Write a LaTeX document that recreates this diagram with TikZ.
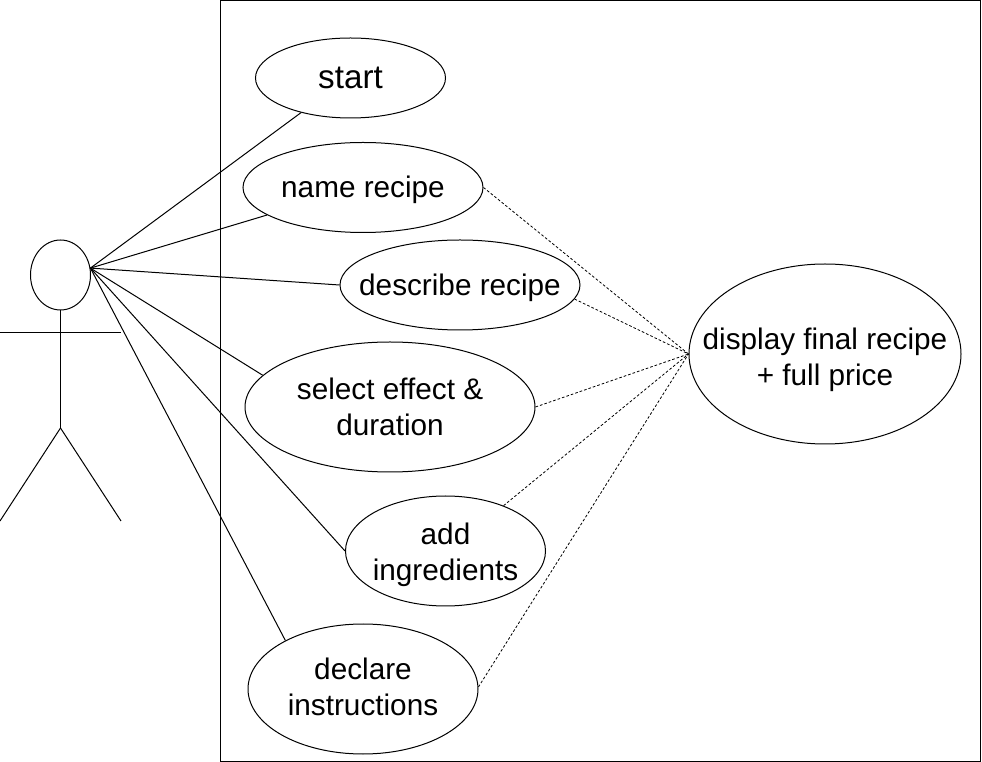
\documentclass[tikz,border=0pt]{standalone}
\usepackage{fontspec}
\usetikzlibrary{shapes.geometric}
\setmainfont{Liberation Sans}
\tikzset{
 px/.style={x=0.75pt,y=-0.75pt},
 usecase/.style={draw=black,ellipse,inner sep=0pt,line width=0.75pt},
 uctext/.style={inner sep=0pt,align=center,font=\fontsize{22.3}{27}\selectfont},
 link/.style={draw=black,line width=0.75pt},
 dep/.style={draw=black,line width=0.6pt,dash pattern=on 2pt off 1.5pt},
 limb/.style={draw=black,line width=0.75pt}
}
\begin{document}
\begin{tikzpicture}[px]
\useasboundingbox (0,0) rectangle (982,762);
\node[draw=black,line width=0.75pt,minimum width=760.5*0.75pt,minimum height=760*0.75pt,inner sep=0pt] (sys) at (600.5,381) {};
\node[usecase,minimum width=142.5pt,minimum height=60pt,label={[uctext,font=\fontsize{24.9}{28}\selectfont]center:start}] (start) at (350.5,78) {};
\node[usecase,minimum width=180pt,minimum height=67.5pt,label={[uctext,yshift=-1.9pt]center:name recipe}] (name) at (363,187.5) {};
\node[usecase,minimum width=180pt,minimum height=67.5pt,label={[uctext,yshift=-2.2pt]center:describe recipe}] (desc) at (460,285) {};
\node[usecase,minimum width=217.5pt,minimum height=97.5pt,label={[uctext]center:select effect \&\\duration}] (sel) at (390,407) {};
\node[usecase,minimum width=150pt,minimum height=82.5pt,label={[uctext,yshift=-3pt]center:add\\ingredients}] (add) at (445.5,551) {};
\node[usecase,minimum width=172.5pt,minimum height=97.5pt,label={[uctext,yshift=1.5pt]center:declare\\instructions}] (decl) at (363,689) {};
\node[usecase,minimum width=204pt,minimum height=135pt,label={[uctext,yshift=-4.5pt]center:display final recipe\\+ full price}] (final) at (825,354) {};
% actor
\node[draw=black,ellipse,line width=0.75pt,minimum width=45pt,minimum height=52.5pt,inner sep=0pt] (head) at (60.5,275) {};
\coordinate (hip) at (60.5,428);
\coordinate (armL) at (0,333);
\coordinate (armR) at (121,333);
\coordinate (footL) at (0,521);
\coordinate (footR) at (121,521);
\draw[limb] (head.south) -- (hip);
\draw[limb] (armL) -- (armR);
\draw[limb] (hip) -- (footL);
\draw[limb] (hip) -- (footR);
% associations
\draw[link] (head.13.3) -- (start.215.3);
\draw[link] (head.13.3) -- (name.196.1);
\draw[link] (head.13.3) -- (desc.west);
\draw[link] (head.13.3) -- (sel.166.6);
\draw[link] (head.13.3) -- (add.west);
\draw[link] (head.13.3) -- (decl.148.1);
% dependencies
\draw[dep] (name.east) -- (final.west);
\draw[dep] (desc.-7.1) -- (final.west);
\draw[dep] (sel.east) -- (final.west);
\draw[dep] (add.38) -- (final.west);
\draw[dep] (decl.1.5) -- (final.west);
\end{tikzpicture}
\end{document}
